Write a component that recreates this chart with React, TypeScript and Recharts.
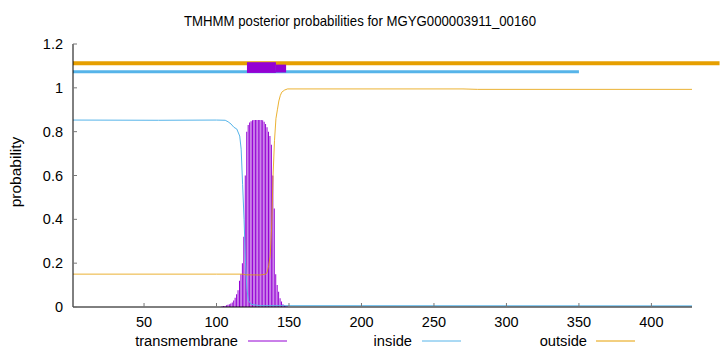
import React from 'react';
import { ComposedChart, Bar, Line, XAxis, YAxis, ReferenceLine } from 'recharts';

const titleText = 'TMHMM posterior probabilities for MGYG000003911_00160';

const tmResidues = [104,105,106,107,108,109,110,111,112,113,114,115,116,117,118,119,120,121,122,123,124,125,126,127,128,129,130,131,132,133,134,135,136,137,138,139,140,141,142,143,144,145,146,147,148,149];
const tmProb = [0.003,0.004,0.005,0.008,0.01,0.012,0.016,0.021,0.03,0.042,0.058,0.076,0.12,0.15,0.2,0.32,0.6,0.8,0.83,0.842,0.848,0.852,0.853,0.853,0.853,0.853,0.853,0.853,0.852,0.845,0.835,0.82,0.8,0.78,0.74,0.6,0.45,0.15,0.1,0.07,0.04,0.025,0.012,0.007,0.004,0.002];

const insideResidues = [1,60,100,106,108,110,112,114,116,117,118,119,120,121,122,124,130,428];
const insideProb = [0.853,0.852,0.853,0.852,0.845,0.835,0.82,0.812,0.78,0.72,0.56,0.4,0.2,0.08,0.03,0.012,0.006,0.005];

const outsideResidues = [1,100,118,120,130,134,135,136,137,138,139,140,141,142,143,144,145,147,149,270,280,428];
const outsideProb = [0.15,0.15,0.15,0.147,0.146,0.15,0.16,0.19,0.23,0.36,0.6,0.76,0.86,0.9,0.94,0.965,0.98,0.99,0.995,0.995,0.993,0.993];

const xTicks = [50,100,150,200,250,300,350,400];
const yTicks = [0,0.2,0.4,0.6,0.8,1,1.2];

// predicted topology bands
const outsideBand = { from: 1, to: 447, level: 1.112 };
const insideBand = { from: 1, to: 350, level: 1.073 };
const tmBoxes = [
  { from: 121, to: 141, low: 1.068, high: 1.117 },
  { from: 141, to: 148, low: 1.07, high: 1.106 },
];

const legendItems = [
  { label: 'transmembrane', color: '#9400d3' },
  { label: 'inside', color: '#56b4e9' },
  { label: 'outside', color: '#e69f00' },
];

const tmData = tmResidues.map((r, i) => ({ residue: r, tm: tmProb[i] }));
const insideData = insideResidues.map((r, i) => ({ residue: r, inside: insideProb[i] }));
const outsideData = outsideResidues.map((r, i) => ({ residue: r, outside: outsideProb[i] }));

const FONT = '"Liberation Sans", Arial, Helvetica, sans-serif';
const PX_PER_UNIT = 218.5; // y pixels per probability unit (for box stroke thickness)
const legendPos = [
  { textEnd: 238, lineStart: 248 },
  { textEnd: 412, lineStart: 422 },
  { textEnd: 587, lineStart: 596 },
];

export default function App() {
  return (
    <div style={{ position: 'fixed', left: 0, top: 0, width: 720, height: 352, background: '#fff' }}>
      <ComposedChart
        width={720}
        height={352}
        data={tmData}
        margin={{ top: 44, right: 28, bottom: 15, left: 0 }}
        style={{ fontFamily: FONT }}
      >
        <XAxis
          dataKey="residue"
          type="number"
          domain={[1, 428]}
          allowDataOverflow
          ticks={xTicks}
          height={30}
          tickSize={-4}
          tickMargin={14}
          axisLine={{ stroke: '#000', strokeWidth: 1 }}
          tickLine={{ stroke: '#777' }}
          tick={{ fill: '#000', fontSize: 14.5, fontFamily: FONT }}
        />
        <XAxis
          xAxisId="top"
          orientation="top"
          type="number"
          domain={[1, 428]}
          allowDataOverflow
          ticks={xTicks}
          height={0}
          tickSize={-4}
          tick={false}
          axisLine={{ stroke: '#000', strokeWidth: 1 }}
          tickLine={{ stroke: '#777' }}
        />
        <YAxis
          type="number"
          domain={[0, 1.2]}
          ticks={yTicks}
          width={73}
          tickSize={-4}
          tickMargin={14}
          axisLine={{ stroke: '#000', strokeWidth: 1 }}
          tickLine={{ stroke: '#777' }}
          tick={{ fill: '#000', fontSize: 14.5, fontFamily: FONT }}
        />
        <YAxis
          yAxisId="right"
          orientation="right"
          type="number"
          domain={[0, 1.2]}
          ticks={yTicks}
          width={0}
          tickSize={-4}
          tick={false}
          axisLine={{ stroke: '#333', strokeWidth: 2 }}
          tickLine={{ stroke: '#777' }}
        />
        <Bar dataKey="tm" fill="#9400d3" barSize={1} isAnimationActive={false} />
        <Line
          data={insideData}
          dataKey="inside"
          type="linear"
          stroke="#56b4e9"
          strokeWidth={1}
          dot={false}
          activeDot={false}
          isAnimationActive={false}
        />
        <Line
          data={outsideData}
          dataKey="outside"
          type="linear"
          stroke="#e69f00"
          strokeWidth={1}
          strokeOpacity={0.8}
          dot={false}
          activeDot={false}
          isAnimationActive={false}
        />
        <ReferenceLine
          segment={[{ x: insideBand.from, y: insideBand.level }, { x: insideBand.to, y: insideBand.level }]}
          stroke="#56b4e9"
          strokeWidth={3}
          ifOverflow="visible"
        />
        <ReferenceLine
          segment={[{ x: outsideBand.from, y: outsideBand.level }, { x: outsideBand.to, y: outsideBand.level }]}
          stroke="#e69f00"
          strokeWidth={4}
          ifOverflow="visible"
        />
        {tmBoxes.map((b, i) => (
          <ReferenceLine
            key={i}
            segment={[{ x: b.from, y: (b.low + b.high) / 2 }, { x: b.to, y: (b.low + b.high) / 2 }]}
            stroke="#9400d3"
            strokeWidth={(b.high - b.low) * PX_PER_UNIT}
            ifOverflow="visible"
          />
        ))}
      </ComposedChart>
      <svg
        width={720}
        height={352}
        style={{ position: 'absolute', left: 0, top: 0, pointerEvents: 'none' }}
        fontFamily={FONT}
      >
        <text x={360} y={26} textAnchor="middle" fontSize={14.5} fill="#000" textLength={352} lengthAdjust="spacingAndGlyphs">
          {titleText}
        </text>
        <text x={21} y={172} textAnchor="middle" fontSize={15.5} fill="#000" transform="rotate(-90 21 172)">
          probability
        </text>
        {legendItems.map((it, i) => (
          <g key={it.label}>
            <text x={legendPos[i].textEnd} y={346} textAnchor="end" fontSize={14.7} fill="#000">
              {it.label}
            </text>
            <line x1={legendPos[i].lineStart} x2={legendPos[i].lineStart + 39} y1={341} y2={341} stroke={it.color} strokeWidth={1} />
          </g>
        ))}
      </svg>
    </div>
  );
}
